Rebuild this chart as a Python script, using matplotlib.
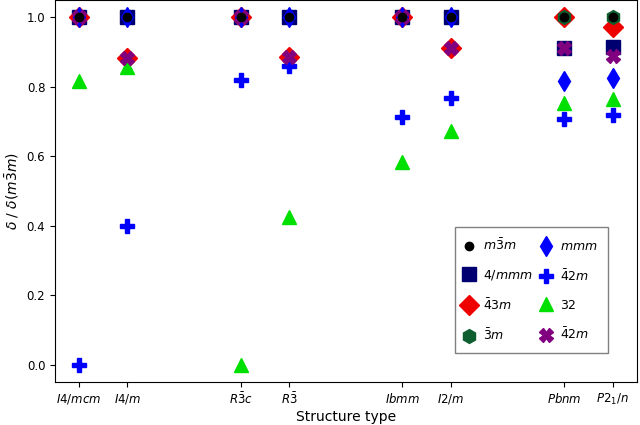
import numpy as np
import matplotlib
matplotlib.use("Agg")
import matplotlib.pyplot as plt

# structure types on the x axis
structures = ['$I4/mcm$', '$I4/m$', '$R\\bar{3}c$', '$R\\bar{3}$',
              '$Ibmm$', '$I2/m$', '$Pbnm$', '$P2_1/n$']
xpos = [0, 0.3, 1, 1.3, 2, 2.3, 3, 3.3]

nan = np.nan
m3m = [1, 1, 1, 1, 1, 1, 1, 1]
t4mmm = [1, 1, 1, 1, 1, 1, 0.911, 0.916]
t43m = [1, 0.883, 1, 0.885, 1, 0.911, 1.0, 0.973]
t3m = [nan, nan, nan, nan, nan, nan, 1.0, 1.0]
mmm = [1, 1, 1, 1, 1, 1, 0.818, 0.825]
t42m_plus = [0.0, 0.40, 0.82, 0.861, 0.712, 0.769, 0.708, 0.719]
t32 = [0.817, 0.858, 0.0, 0.424, 0.583, 0.674, 0.754, 0.765]
t42m_x = [1, 0.883, 1, 0.885, 1, 0.911, 0.911, 0.889]

fig = plt.figure(figsize=(6.4, 4.25), dpi=100)
ax = fig.add_axes([0.086, 0.101, 0.909, 0.899])

ms = 10
h_sq, = ax.plot(xpos, t4mmm, ls='none', marker='s', ms=ms, color='#000070', label='$4/mmm$')
h_D, = ax.plot(xpos, t43m, ls='none', marker='D', ms=ms, color='#ee0000', label='$\\bar{4}3m$')
h_hex, = ax.plot(xpos, t3m, ls='none', marker='h', ms=ms, color='#0e5e30', label='$\\bar{3}m$')
h_d, = ax.plot(xpos, mmm, ls='none', marker='d', ms=ms, color='blue', label='$mmm$')
h_P, = ax.plot(xpos, t42m_plus, ls='none', marker='P', ms=ms, color='blue', label='$\\bar{4}2m$')
h_tri, = ax.plot(xpos, t32, ls='none', marker='^', ms=ms, color='#00e000', label='$32$')
h_X, = ax.plot(xpos, t42m_x, ls='none', marker='X', ms=ms, color='purple', label='$\\bar{4}2m$')
h_dot, = ax.plot(xpos, m3m, ls='none', marker='o', ms=6, color='black', label='$m\\bar{3}m$')

ax.set_xlim(-0.148, 3.45)
ax.set_ylim(-0.05, 1.05)
ax.set_xticks(xpos)
ax.set_xticklabels(structures)
ax.tick_params(labelsize=8.5)
ax.set_xlabel('Structure type', labelpad=2)
ax.set_ylabel('$\\delta$ / $\\delta(m\\bar{3}m)$')

handles = [h_dot, h_sq, h_D, h_hex, h_d, h_P, h_tri, h_X]
leg = ax.legend(handles=handles, ncol=2, loc='lower right',
                bbox_to_anchor=(0.950, 0.076), borderaxespad=0,
                fancybox=False, edgecolor='gray', framealpha=1,
                fontsize=9, labelspacing=1.2, handlelength=0.6,
                handletextpad=0.8, columnspacing=0.8, borderpad=0.8)

fig.savefig('out.png', dpi=100)
